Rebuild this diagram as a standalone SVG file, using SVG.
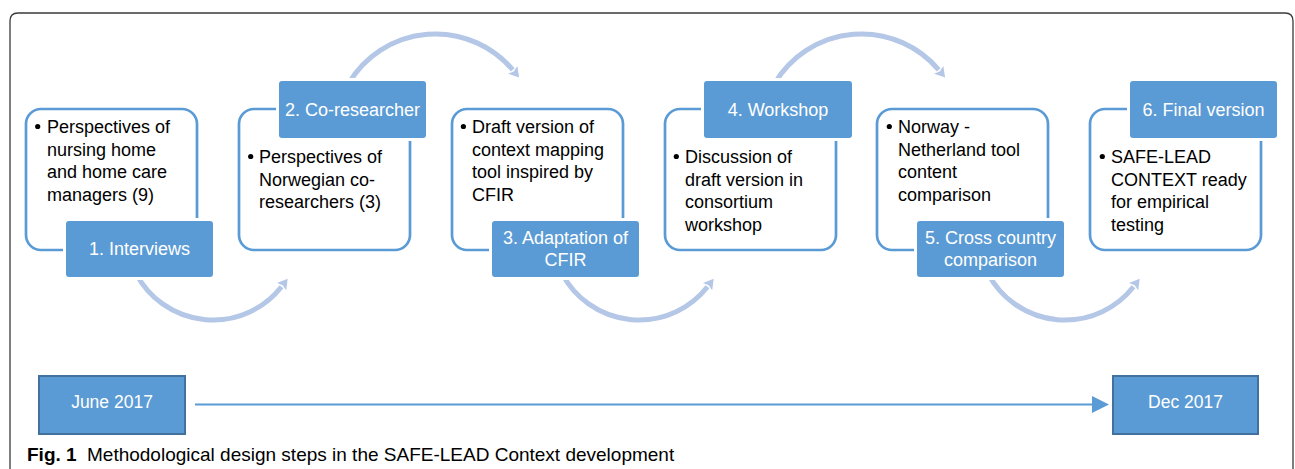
<svg xmlns="http://www.w3.org/2000/svg" width="1295" height="469" viewBox="0 0 1295 469">
<style>
text{font-family:"Liberation Sans",Arial,sans-serif;}
.outline{fill:#ffffff;stroke:#5b9bd5;stroke-width:2.7;}
.label{fill:#5b9bd5;stroke:#ffffff;stroke-width:6;paint-order:stroke;}
.lt{fill:#ffffff;font-size:18px;text-anchor:middle;}
.bt{fill:#000000;font-size:18px;}
.bul{fill:#000000;}
.arc{fill:none;stroke:#b4c7e7;stroke-width:5;marker-end:url(#ah);}
.date{fill:#5b9bd5;stroke:#41719c;stroke-width:2;}
.dt{fill:#ffffff;font-size:17.5px;text-anchor:middle;}
</style>
<defs>
<marker id="ah" markerUnits="userSpaceOnUse" viewBox="0 0 10 12" markerWidth="10" markerHeight="12" refX="0" refY="6" orient="auto">
<path d="M0,0 L10,6 L0,12 L2,6 z" fill="#b4c7e7"/>
</marker>
<marker id="tl" markerUnits="userSpaceOnUse" viewBox="0 0 17 17" markerWidth="17" markerHeight="17" refX="0" refY="8.5" orient="auto">
<path d="M0,0 L17,8.5 L0,17 z" fill="#5b9bd5"/>
</marker>
</defs>
<rect width="1295" height="469" fill="#ffffff"/>
<path d="M10,469 V21 Q10,13 18,13 H1285 Q1293,13 1293,21 V469" fill="none" stroke="#3a3a3a" stroke-width="1.3"/>

<g id="connectors">
<path class="arc" d="M136.2,273.8 A87,87 0 0 0 281.5,286.7"/>
<path class="arc" d="M348.9,83 A101,101 0 0 1 512.7,69.8"/>
<path class="arc" d="M562.2,273.8 A87,87 0 0 0 707.5,286.7"/>
<path class="arc" d="M774.9,83 A101,101 0 0 1 938.7,69.8"/>
<path class="arc" d="M988.2,273.8 A87,87 0 0 0 1133.5,286.7"/>
<line x1="195" y1="404.5" x2="1092" y2="404.5" stroke="#5b9bd5" stroke-width="2" marker-end="url(#tl)"/>
</g>

<g id="step1">
<rect class="outline" x="26" y="109" width="171" height="141" rx="15"/>
<circle class="bul" cx="37.7" cy="126.5" r="2.6"/>
<text class="bt" x="47" y="133">Perspectives of</text>
<text class="bt" x="47" y="155.5">nursing home</text>
<text class="bt" x="47" y="178">and home care</text>
<text class="bt" x="47" y="200.5">managers (9)</text>
<rect class="label" x="66" y="221" width="147" height="56" rx="3"/>
<text class="lt" x="139.5" y="255">1. Interviews</text>
</g>

<g id="step2">
<rect class="outline" x="239" y="109" width="171" height="141" rx="15"/>
<circle class="bul" cx="250.7" cy="156.5" r="2.6"/>
<text class="bt" x="259" y="163">Perspectives of</text>
<text class="bt" x="259" y="185.5">Norwegian co-</text>
<text class="bt" x="259" y="208">researchers (3)</text>
<rect class="label" x="279" y="81" width="147" height="57" rx="3"/>
<text class="lt" x="352.5" y="116">2. Co-researcher</text>
</g>

<g id="step3">
<rect class="outline" x="452" y="109" width="171" height="141" rx="15"/>
<circle class="bul" cx="463.4" cy="126.5" r="2.6"/>
<text class="bt" x="472" y="133">Draft version of</text>
<text class="bt" x="472" y="155.5">context mapping</text>
<text class="bt" x="472" y="178">tool inspired by</text>
<text class="bt" x="472" y="200.5">CFIR</text>
<rect class="label" x="492" y="221" width="147" height="56" rx="3"/>
<text class="lt" x="565.5" y="244">3. Adaptation of</text>
<text class="lt" x="565.5" y="266">CFIR</text>
</g>

<g id="step4">
<rect class="outline" x="665" y="109" width="171" height="141" rx="15"/>
<circle class="bul" cx="676.3" cy="156.5" r="2.6"/>
<text class="bt" x="685" y="163">Discussion of</text>
<text class="bt" x="685" y="185.5">draft version in</text>
<text class="bt" x="685" y="208">consortium</text>
<text class="bt" x="685" y="230.5">workshop</text>
<rect class="label" x="704" y="81" width="148" height="57" rx="3"/>
<text class="lt" x="778" y="116">4. Workshop</text>
</g>

<g id="step5">
<rect class="outline" x="877" y="109" width="171" height="141" rx="15"/>
<circle class="bul" cx="889.3" cy="126.5" r="2.6"/>
<text class="bt" x="898" y="133">Norway -</text>
<text class="bt" x="898" y="155.5">Netherland tool</text>
<text class="bt" x="898" y="178">content</text>
<text class="bt" x="898" y="200.5">comparison</text>
<rect class="label" x="917" y="221" width="147" height="56" rx="3"/>
<text class="lt" x="990.5" y="244">5. Cross country</text>
<text class="lt" x="990.5" y="266">comparison</text>
</g>

<g id="step6">
<rect class="outline" x="1090" y="109" width="171" height="141" rx="15"/>
<circle class="bul" cx="1102.3" cy="156.5" r="2.6"/>
<text class="bt" x="1111" y="163">SAFE-LEAD</text>
<text class="bt" x="1111" y="185.5">CONTEXT ready</text>
<text class="bt" x="1111" y="208">for empirical</text>
<text class="bt" x="1111" y="230.5">testing</text>
<rect class="label" x="1130" y="81" width="147" height="57" rx="3"/>
<text class="lt" x="1203.5" y="116">6. Final version</text>
</g>

<g id="start">
<rect class="date" x="39" y="376" width="146" height="58"/>
<text class="dt" x="112" y="408">June 2017</text>
</g>

<g id="end">
<rect class="date" x="1113" y="376" width="145" height="58"/>
<text class="dt" x="1185.5" y="408">Dec 2017</text>
</g>

<g id="caption">
<text x="27" y="461" font-size="19" fill="#000000"><tspan font-weight="bold">Fig. 1</tspan><tspan x="87">Methodological design steps in the SAFE-LEAD Context development</tspan></text>
</g>
</svg>
